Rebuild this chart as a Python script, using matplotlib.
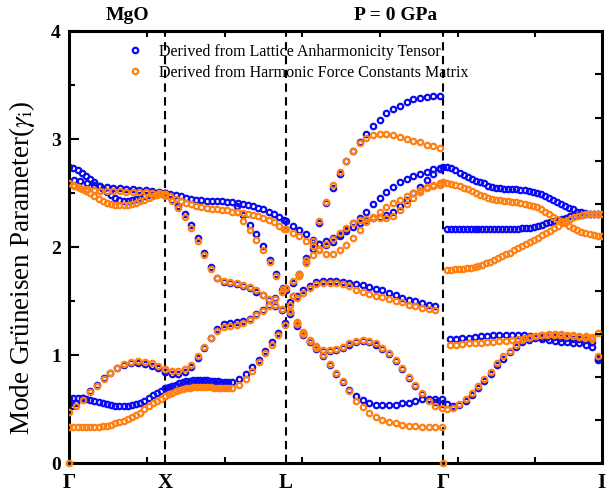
import numpy as np
import matplotlib
matplotlib.use("Agg")
import matplotlib.pyplot as plt
from matplotlib.ticker import FixedLocator, MultipleLocator

plt.rcParams['font.family'] = ['Liberation Serif', 'DejaVu Serif']
plt.rcParams['mathtext.fontset'] = 'stix'

# ---------------- data ----------------
kpt_labels = ["Γ", "X", "L", "Γ", "I"]
kpt_pos = [0.0, 1.236, 2.789, 4.813, 6.852]
path_ticks = [1, 2, 3, 4, 5, 6]
gamma_zero_x = [0.0, 4.813]
gamma_zero_y = [0.0, 0.0]

# Γ -> X
gx_a_x = (0.0, 1.236)
gx_a_b = [2.74, 2.73, 2.71, 2.69, 2.66, 2.63, 2.60, 2.57, 2.54, 2.51, 2.48, 2.46, 2.44, 2.43, 2.43, 2.44, 2.45, 2.46, 2.47, 2.48, 2.49, 2.50, 2.50, 2.50]
gx_a_o = [2.59, 2.58, 2.56, 2.54, 2.52, 2.50, 2.47, 2.45, 2.43, 2.41, 2.40, 2.39, 2.39, 2.39, 2.39, 2.40, 2.41, 2.43, 2.44, 2.46, 2.47, 2.48, 2.49, 2.49]
gx_b_x = (0.06, 1.236)
gx_b_b = [2.62, 2.61, 2.59, 2.58, 2.57, 2.56, 2.55, 2.55, 2.54, 2.54, 2.53, 2.53, 2.52, 2.51, 2.50]
gx_b_o = [2.57, 2.55, 2.54, 2.53, 2.52, 2.52, 2.52, 2.52, 2.51, 2.51, 2.51, 2.51, 2.50, 2.50, 2.49]
gx_h_x = (0.0, 1.236)
gx_h_b = [0.55, 0.56, 0.61, 0.67, 0.73, 0.79, 0.84, 0.88, 0.91, 0.93, 0.93, 0.92, 0.90, 0.88, 0.85]
gx_h_o = [0.48, 0.53, 0.59, 0.66, 0.72, 0.78, 0.84, 0.88, 0.92, 0.94, 0.95, 0.94, 0.93, 0.90, 0.87]
gx_l_x = (0.0, 1.236)
gx_l_b = [0.61, 0.61, 0.61, 0.61, 0.60, 0.59, 0.58, 0.57, 0.56, 0.55, 0.54, 0.535, 0.53, 0.53, 0.535, 0.54, 0.55, 0.56, 0.58, 0.605, 0.63, 0.655, 0.675, 0.695]
gx_l_o = [0.335, 0.335, 0.335, 0.335, 0.335, 0.335, 0.34, 0.34, 0.345, 0.35, 0.36, 0.37, 0.38, 0.39, 0.41, 0.43, 0.45, 0.47, 0.50, 0.53, 0.56, 0.58, 0.60, 0.62]

# X -> L
xl_f_x = (1.236, 2.763)
xl_f_b = [2.50, 2.49, 2.48, 2.47, 2.46, 2.45, 2.44, 2.44, 2.43, 2.43, 2.43, 2.43, 2.42, 2.42, 2.41, 2.40, 2.39, 2.38, 2.36, 2.35, 2.33, 2.31, 2.28, 2.25]
xl_f_o = [2.49, 2.47, 2.45, 2.43, 2.41, 2.40, 2.38, 2.37, 2.36, 2.35, 2.35, 2.34, 2.34, 2.33, 2.33, 2.32, 2.31, 2.30, 2.29, 2.27, 2.25, 2.23, 2.20, 2.17]
xl_d2_x = (2.152, 2.750)
xl_d2_b = [2.38, 2.30, 2.21, 2.12, 2.01, 1.88, 1.75, 1.62]
xl_d2_o = [2.33, 2.24, 2.16, 2.07, 1.97, 1.86, 1.73, 1.61]
xl_d1_x = (1.236, 2.737)
xl_d1_b = [2.48, 2.44, 2.38, 2.31, 2.21, 2.09, 1.95, 1.82, 1.72, 1.68, 1.67, 1.66, 1.64, 1.62, 1.59, 1.56, 1.51, 1.46, 1.42]
xl_d1_o = [2.47, 2.43, 2.36, 2.28, 2.18, 2.06, 1.93, 1.80, 1.72, 1.69, 1.68, 1.67, 1.65, 1.63, 1.60, 1.56, 1.52, 1.47, 1.43]
xl_h_x = (1.236, 2.737)
xl_h_b = [0.85, 0.83, 0.83, 0.85, 0.89, 0.98, 1.07, 1.16, 1.24, 1.29, 1.30, 1.31, 1.32, 1.34, 1.38, 1.42, 1.47, 1.53, 1.60]
xl_h_o = [0.87, 0.86, 0.86, 0.87, 0.91, 0.99, 1.08, 1.16, 1.23, 1.26, 1.27, 1.28, 1.30, 1.33, 1.37, 1.41, 1.46, 1.52, 1.59]
xl_l1_x = (1.236, 2.094)
xl_l1_b = [0.70, 0.71, 0.72, 0.73, 0.74, 0.75, 0.76, 0.76, 0.77, 0.77, 0.77, 0.77, 0.77, 0.76, 0.76, 0.76, 0.75, 0.75, 0.75, 0.75]
xl_l1_o = [0.62, 0.64, 0.65, 0.67, 0.68, 0.69, 0.70, 0.70, 0.71, 0.71, 0.71, 0.71, 0.71, 0.71, 0.70, 0.70, 0.70, 0.70, 0.70, 0.70]
xl_l2_x = (2.184, 2.776)
xl_l2_b = [0.78, 0.83, 0.89, 0.96, 1.04, 1.12, 1.21, 1.30]
xl_l2_o = [0.73, 0.78, 0.86, 0.94, 1.02, 1.10, 1.19, 1.28]

# L -> Γ
lg_t_x = (2.789, 4.771)
lg_t_b = [1.60, 1.67, 1.74, 1.86, 2.05, 2.22, 2.41, 2.55, 2.68, 2.80, 2.89, 2.97, 3.05, 3.12, 3.18, 3.24, 3.28, 3.31, 3.34, 3.37, 3.38, 3.39, 3.40, 3.40]
lg_t_o = [1.62, 1.69, 1.75, 1.88, 2.06, 2.24, 2.42, 2.58, 2.70, 2.80, 2.89, 2.96, 3.01, 3.04, 3.05, 3.05, 3.04, 3.02, 3.00, 2.98, 2.97, 2.95, 2.94, 2.92]
lg_m1_x = (2.789, 4.771)
lg_m1_b = [2.24, 2.20, 2.16, 2.12, 2.07, 2.03, 2.02, 2.05, 2.10, 2.16, 2.22, 2.27, 2.33, 2.40, 2.46, 2.51, 2.56, 2.60, 2.63, 2.66, 2.68, 2.70, 2.72, 2.73]
lg_m1_o = [2.17, 2.13, 2.10, 2.06, 2.01, 1.97, 1.94, 1.94, 1.97, 2.02, 2.09, 2.16, 2.23, 2.28, 2.33, 2.37, 2.41, 2.44, 2.47, 2.50, 2.53, 2.56, 2.58, 2.59]
lg_m2_x = (2.875, 4.771)
lg_m2_b = [1.55, 1.75, 1.90, 1.98, 2.03, 2.06, 2.09, 2.12, 2.15, 2.19, 2.22, 2.25, 2.27, 2.28, 2.30, 2.33, 2.38, 2.44, 2.50, 2.56, 2.62, 2.68, 2.72]
lg_m2_o = [1.55, 1.73, 1.85, 1.93, 1.98, 2.03, 2.08, 2.13, 2.18, 2.22, 2.25, 2.26, 2.27, 2.27, 2.27, 2.29, 2.34, 2.40, 2.46, 2.51, 2.55, 2.57, 2.58]
lg_p_x = (2.840, 4.709)
lg_p_b = [1.49, 1.55, 1.60, 1.64, 1.68, 1.685, 1.685, 1.685, 1.68, 1.67, 1.66, 1.65, 1.635, 1.615, 1.60, 1.58, 1.555, 1.535, 1.515, 1.50, 1.48, 1.47, 1.46]
lg_p_o = [1.47, 1.53, 1.58, 1.62, 1.66, 1.67, 1.67, 1.665, 1.66, 1.64, 1.60, 1.585, 1.57, 1.55, 1.54, 1.52, 1.50, 1.49, 1.47, 1.455, 1.44, 1.43, 1.42]
lg_h_x = (2.840, 4.794)
lg_h_b = [1.40, 1.30, 1.21, 1.13, 1.08, 1.04, 1.04, 1.05, 1.07, 1.10, 1.12, 1.13, 1.12, 1.10, 1.06, 1.01, 0.95, 0.87, 0.79, 0.72, 0.64, 0.59, 0.57, 0.55]
lg_h_o = [1.41, 1.31, 1.22, 1.14, 1.09, 1.05, 1.05, 1.06, 1.08, 1.11, 1.13, 1.14, 1.13, 1.11, 1.07, 1.02, 0.96, 0.88, 0.80, 0.73, 0.65, 0.58, 0.53, 0.51]
lg_l_x = (2.840, 4.794)
lg_l_b = [1.38, 1.27, 1.19, 1.12, 1.06, 0.99, 0.91, 0.83, 0.75, 0.68, 0.62, 0.585, 0.56, 0.545, 0.54, 0.54, 0.545, 0.555, 0.56, 0.58, 0.595, 0.60, 0.60, 0.60]
lg_l_o = [1.40, 1.29, 1.20, 1.13, 1.07, 1.00, 0.92, 0.84, 0.76, 0.67, 0.58, 0.52, 0.47, 0.43, 0.40, 0.385, 0.37, 0.36, 0.35, 0.345, 0.34, 0.335, 0.335, 0.335]

# Γ -> I
gi_t_x = (4.813, 6.852)
gi_t_b = [2.74, 2.74, 2.73, 2.71, 2.69, 2.67, 2.65, 2.63, 2.61, 2.60, 2.59, 2.57, 2.56, 2.55, 2.545, 2.54, 2.535, 2.535, 2.535, 2.53,
          2.53, 2.52, 2.51, 2.50, 2.49, 2.47, 2.455, 2.44, 2.42, 2.40, 2.38, 2.365, 2.35, 2.33, 2.325, 2.32, 2.31, 2.31, 2.31, 2.31]
gi_t_o = [2.60, 2.59, 2.585, 2.575, 2.565, 2.55, 2.535, 2.52, 2.50, 2.485, 2.47, 2.46, 2.45, 2.44, 2.435, 2.43, 2.425, 2.42, 2.415, 2.41,
          2.40, 2.395, 2.385, 2.37, 2.35, 2.33, 2.31, 2.28, 2.26, 2.24, 2.22, 2.20, 2.18, 2.16, 2.14, 2.13, 2.12, 2.11, 2.105, 2.10]
gi_m_x = (4.857, 6.852)
gi_m_b = [2.17, 2.17, 2.17, 2.17, 2.17, 2.17, 2.17, 2.17, 2.17, 2.17, 2.17, 2.17, 2.17, 2.17, 2.17, 2.17, 2.17, 2.17, 2.172, 2.175,
          2.177, 2.18, 2.19, 2.20, 2.21, 2.22, 2.235, 2.245, 2.255, 2.265, 2.275, 2.285, 2.29, 2.295, 2.30, 2.305, 2.31, 2.31, 2.31, 2.31]
gi_m_o = [1.79, 1.79, 1.795, 1.80, 1.80, 1.805, 1.81, 1.82, 1.83, 1.84, 1.85, 1.865, 1.88, 1.90, 1.92, 1.935, 1.95, 1.97, 1.99, 2.01,
          2.03, 2.05, 2.07, 2.09, 2.11, 2.13, 2.15, 2.175, 2.20, 2.22, 2.24, 2.26, 2.28, 2.29, 2.30, 2.305, 2.31, 2.31, 2.31, 2.31]
gi_f_x = (4.900, 6.804)
gi_f_b = [1.15, 1.155, 1.16, 1.165, 1.17, 1.175, 1.18, 1.185, 1.19, 1.19, 1.19, 1.19, 1.185, 1.18, 1.17, 1.155, 1.14, 1.13, 1.125, 1.12, 1.115, 1.11, 1.10, 1.08, 0.98]
gi_f_o = [1.10, 1.10, 1.105, 1.11, 1.11, 1.115, 1.12, 1.125, 1.13, 1.135, 1.14, 1.15, 1.16, 1.17, 1.18, 1.19, 1.195, 1.20, 1.20, 1.19, 1.185, 1.18, 1.175, 1.17, 1.21]
gi_r_x = (4.857, 6.803)
gi_r_b = [0.55, 0.53, 0.54, 0.58, 0.63, 0.70, 0.76, 0.83, 0.91, 0.97, 1.03, 1.08, 1.12, 1.145, 1.16, 1.17, 1.17, 1.17, 1.165, 1.16, 1.155, 1.15, 1.14, 1.12, 0.96]
gi_r_o = [0.50, 0.51, 0.55, 0.595, 0.65, 0.72, 0.78, 0.85, 0.93, 0.99, 1.045, 1.10, 1.14, 1.165, 1.18, 1.19, 1.19, 1.19, 1.185, 1.18, 1.175, 1.17, 1.16, 1.15, 0.99]

bands = [
    (gx_a_x, gx_a_b, gx_a_o), (gx_b_x, gx_b_b, gx_b_o), (gx_h_x, gx_h_b, gx_h_o), (gx_l_x, gx_l_b, gx_l_o),
    (xl_f_x, xl_f_b, xl_f_o), (xl_d2_x, xl_d2_b, xl_d2_o), (xl_d1_x, xl_d1_b, xl_d1_o), (xl_h_x, xl_h_b, xl_h_o),
    (xl_l1_x, xl_l1_b, xl_l1_o), (xl_l2_x, xl_l2_b, xl_l2_o),
    (lg_t_x, lg_t_b, lg_t_o), (lg_m1_x, lg_m1_b, lg_m1_o), (lg_m2_x, lg_m2_b, lg_m2_o), (lg_p_x, lg_p_b, lg_p_o),
    (lg_h_x, lg_h_b, lg_h_o), (lg_l_x, lg_l_b, lg_l_o),
    (gi_t_x, gi_t_b, gi_t_o), (gi_m_x, gi_m_b, gi_m_o), (gi_f_x, gi_f_b, gi_f_o), (gi_r_x, gi_r_b, gi_r_o),
]

# ---------------- plot ----------------
BLUE = '#0a0af5'
ORANGE = '#ff8010'
mk = dict(marker='o', linestyle='none', markersize=3.9, markeredgewidth=1.6, markerfacecolor='none')

fig = plt.figure(figsize=(6.07, 4.94), dpi=100)
W, H = 607.0, 494.0
x0, x1, ytop, ybot = 69.3, 601.7, 31.0, 463.5
ax = fig.add_axes([x0 / W, 1 - ybot / H, (x1 - x0) / W, (ybot - ytop) / H])

for p in kpt_pos[1:4]:
    ax.axvline(p, color='k', linestyle=(0, (4, 2.6)), linewidth=1.5, zorder=1)

first = True
for (xr, yb, yo) in bands:
    xs = np.linspace(xr[0], xr[1], len(yb))
    ax.plot(xs, yb, color=BLUE, markeredgecolor=BLUE, zorder=2,
            label='Derived from Lattice Anharmonicity Tensor' if first else None, **mk)
    first = False
first = True
for (xr, yb, yo) in bands:
    xs = np.linspace(xr[0], xr[1], len(yo))
    ax.plot(xs, yo, color=ORANGE, markeredgecolor=ORANGE, zorder=3,
            label='Derived from Harmonic Force Constants Matrix' if first else None, **mk)
    first = False
ax.plot(gamma_zero_x, gamma_zero_y, color=ORANGE, markeredgecolor=ORANGE, zorder=4, clip_on=False, **mk)

ax.set_xlim(kpt_pos[0], kpt_pos[-1])
ax.set_ylim(0, 4)

ax.set_xticks(kpt_pos)
ax.set_xticklabels(kpt_labels, fontsize=15, fontweight='bold')
ax.xaxis.set_minor_locator(FixedLocator(path_ticks))
ax.tick_params(axis='x', which='major', length=0, pad=7)
ax.tick_params(axis='x', which='minor', direction='in', length=4, width=1.5, top=True, bottom=True)

ax.set_yticks([0, 1, 2, 3, 4])
ax.set_yticklabels(['0', '1', '2', '3', '4'], fontsize=14, fontweight='bold')
ax.yaxis.set_minor_locator(MultipleLocator(0.5))
ax.tick_params(axis='y', which='major', direction='in', length=7, width=1.5, pad=6, right=False)
ax.tick_params(axis='y', which='minor', direction='in', length=4, width=1.5, right=False)

ax2 = ax.twinx()
ax2.set_ylim(0, 4)
ax2.set_yticks(np.arange(0.4, 3.99, 0.4))
ax2.tick_params(axis='y', direction='in', length=5, width=1.5, labelright=False)
for s in ax2.spines.values():
    s.set_visible(False)

for s in ax.spines.values():
    s.set_linewidth(2.2)

ax.set_ylabel(r'Mode Grüneisen Parameter($\gamma_{\rm i}$)', fontsize=19.5, va='center')
ax.yaxis.set_label_coords((22 - x0) / (x1 - x0), (ybot - 267.5) / (ybot - ytop))

fig.text(127 / W, 1 - 15 / H, 'MgO', ha='center', va='center', fontsize=14, fontweight='bold')
fig.text(396 / W, 1 - 15 / H, 'P = 0 GPa', ha='center', va='center', fontsize=14, fontweight='bold')

ax.legend(loc='upper left', bbox_to_anchor=((128.6 - x0) / (x1 - x0), (ybot - 44) / (ybot - ytop)),
          frameon=False, fontsize=11.5, handlelength=0.8, handletextpad=1.1, labelspacing=0.3,
          borderpad=0, borderaxespad=0, markerscale=1.0)

fig.savefig('out.png', dpi=100)
